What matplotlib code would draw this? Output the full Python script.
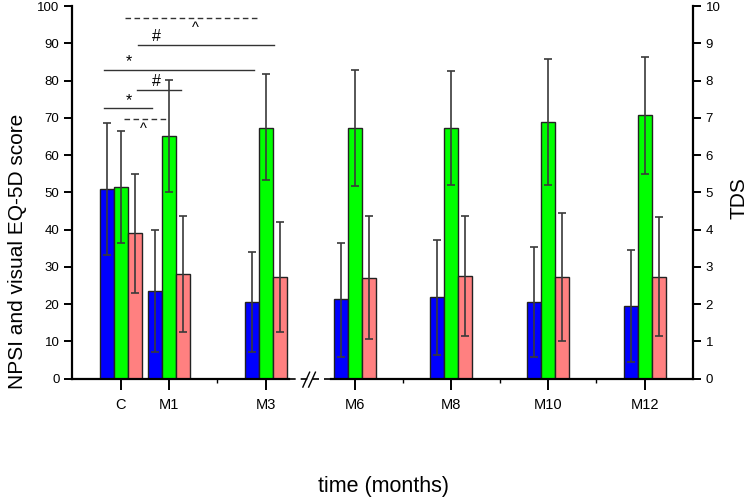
import numpy as np
import matplotlib
matplotlib.use('Agg')
import matplotlib.pyplot as plt

plt.rcParams['font.family'] = ['Liberation Sans', 'DejaVu Sans']

# months shown on the axis (C = baseline)
labels = ['C', 'M1', 'M3', 'M6', 'M8', 'M10', 'M12']
months = [0, 1, 3, 6, 8, 10, 12]

# blue, green, red series: mean, lower and upper end of error bar
blue = [50.9, 23.4, 20.6, 21.3, 21.8, 20.6, 19.5]
blue_lo = [33.1, 7.0, 7.2, 5.7, 6.3, 5.9, 4.5]
blue_hi = [68.7, 39.8, 34.0, 36.5, 37.3, 35.4, 34.5]
green = [51.5, 65.1, 67.2, 67.2, 67.2, 68.9, 70.7]
green_lo = [36.5, 50.0, 53.2, 51.8, 52.0, 52.0, 54.8]
green_hi = [66.4, 80.1, 81.7, 82.8, 82.5, 85.8, 86.4]
red = [39.0, 28.1, 27.2, 27.0, 27.6, 27.3, 27.3]
red_lo = [22.9, 12.6, 12.6, 10.6, 11.5, 10.1, 11.5]
red_hi = [55.0, 43.7, 42.0, 43.7, 43.7, 44.5, 43.4]

# significance brackets: x0, x1, y, symbol, dashed
brackets = [(0.10, 2.875, 96.7, '^', True),
            (0.35, 3.18, 89.5, '#', False),
            (-0.34, 2.76, 82.8, '*', False),
            (0.33, 1.245, 77.4, '#', False),
            (-0.34, 0.65, 72.5, '*', False),
            (0.07, 1.0, 69.8, '^', True)]
sym_x = [1.55, 0.74, 0.18, 0.74, 0.18, 0.47]

BREAK = 1.16  # months 4-5 cut out of the axis
def pos(m):
    return m if m <= 3 else m - BREAK

x = np.array([pos(m) for m in months])
w = 0.29

fig = plt.figure(figsize=(7.5, 5.03), dpi=100)
ax = fig.add_axes([0.096, 0.2475, 0.924 - 0.096, 0.988 - 0.2475])
xmin, xmax = -1.005, 11.84
ax.set_xlim(xmin, xmax)
ax.set_ylim(0, 100)

series = [(blue, blue_lo, blue_hi, '#0000ff', -w),
          (green, green_lo, green_hi, '#00ff00', 0),
          (red, red_lo, red_hi, '#ff8080', w)]
for vals, lo, hi, col, off in series:
    vals = np.array(vals)
    ax.bar(x + off, vals, width=w, color=col, edgecolor='#222222', linewidth=1.0, zorder=2)
    yerr = [vals - np.array(lo), np.array(hi) - vals]
    ax.errorbar(x + off, vals, yerr=yerr, fmt='none', ecolor='#3a3a3a',
                elinewidth=1.2, capsize=3, capthick=1.2, zorder=3)

for (x0, x1, yv, s, dashed), sx in zip(brackets, sym_x):
    ax.plot([x0, x1], [yv, yv], color='#333333', lw=1.0,
            ls=(0, (4, 2.5)) if dashed else '-', clip_on=False)
    if s == '^':
        ax.text(sx, yv - 0.8, s, ha='center', va='top', fontsize=10.5)
    else:
        ax.text(sx, yv + 0.2, s, ha='center', va='bottom', fontsize=11.5)

# axes and spines
for sp in ['top', 'bottom']:
    ax.spines[sp].set_visible(False)
ax.spines['left'].set_linewidth(1.6)
ax.spines['right'].set_visible(False)
ax.set_yticks(np.arange(0, 101, 10))
ax.tick_params(axis='y', direction='out', length=6, width=1.4, labelsize=9.5, pad=3)

# broken x axis
ax.plot([xmin, 3.49], [0, 0], color='black', lw=1.6, clip_on=False, zorder=4)
ax.plot([3.49, 4.36], [0, 0], color='black', lw=1.2, ls=(0, (4, 3)), clip_on=False, zorder=4)
ax.plot([4.36, xmax], [0, 0], color='black', lw=1.6, clip_on=False, zorder=4)
ax.plot([3.77, 3.91], [-2.3, 1.7], color='black', lw=1.0, clip_on=False, zorder=4)
ax.plot([3.89, 4.03], [-2.3, 1.7], color='black', lw=1.0, clip_on=False, zorder=4)

ax.set_xticks(x)
ax.set_xticklabels(labels)
ax.set_xticks([pos(m) for m in [2, 7, 9, 11]], minor=True)
ax.tick_params(axis='x', which='major', direction='out', length=8, width=1.4, labelsize=10.5, pad=6)
ax.tick_params(axis='x', which='minor', direction='out', length=3, width=1.0)

ax2 = ax.twinx()
ax2.set_ylim(0, 10)
ax2.set_yticks(np.arange(0, 11, 1))
for sp in ['top', 'bottom', 'left']:
    ax2.spines[sp].set_visible(False)
ax2.spines['right'].set_linewidth(1.6)
ax2.tick_params(axis='y', direction='out', length=6, width=1.4, labelsize=9.5, pad=3)

fig.text(0.023, 0.5, 'NPSI and visual EQ-5D score', rotation=90, ha='center', va='center', fontsize=15)
fig.text(0.985, 0.607, 'TDS', rotation=90, ha='center', va='center', fontsize=15)
fig.text(0.511, 0.032, 'time (months)', ha='center', va='center', fontsize=15.5)

fig.savefig('out.png', dpi=100)
